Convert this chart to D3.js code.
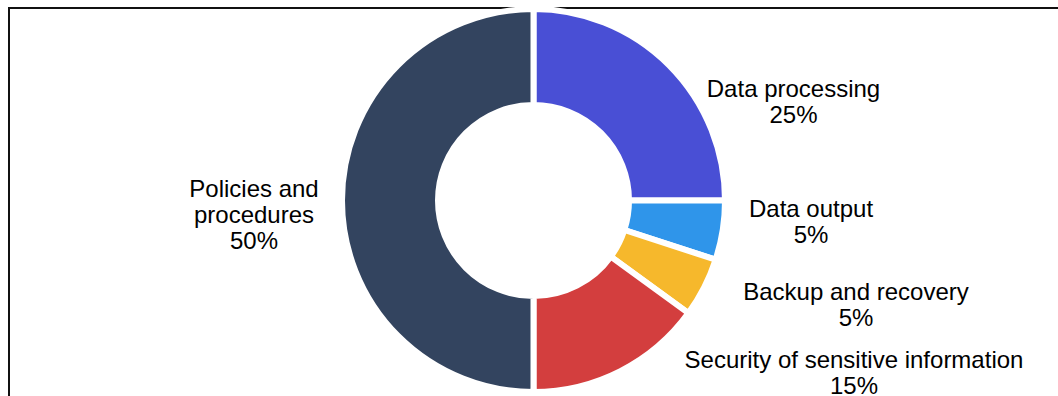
<!DOCTYPE html>
<html>
<head>
<meta charset="utf-8">
<script src="https://cdn.jsdelivr.net/npm/d3@7"></script>
<style>
  html, body { margin: 0; padding: 0; background: #fff; }
  svg { display: block; }
  text { font-family: "Liberation Sans", Arial, sans-serif; }
</style>
</head>
<body>
<svg id="chart" width="1058" height="396"></svg>
<script>
// ---- data ----
const categories = ["Data processing", "Data output", "Backup and recovery", "Security of sensitive information", "Policies and procedures"];
const labelLines = [["Data processing"], ["Data output"], ["Backup and recovery"], ["Security of sensitive information"], ["Policies and", "procedures"]];
const values = [25, 5, 5, 15, 50];
const colors = ["#494FD5", "#2F95EA", "#F6B82C", "#D33E3E", "#33445F"];

// ---- layout ----
const W = 1058, H = 396;
const cx = 533.5, cy = 200.5;
const outerR = 191.5, innerR = 95.5;
const fontSize = 24, lineH = 26;
// label anchor (center x, first baseline y) relative to the pie center
const labelOffsets = [[260, -103.8], [277.5, 16.2], [322.5, 99.5], [320.5, 167.2], [-279.5, -3.8]];

const svg = d3.select("#chart");

// frame
svg.append("rect")
  .attr("x", 9).attr("y", 8)
  .attr("width", 1200).attr("height", 600)
  .attr("fill", "none").attr("stroke", "#111").attr("stroke-width", 2);

const pie = d3.pie().sort(null).value(d => d)(values);
const arc = d3.arc().innerRadius(innerR).outerRadius(outerR);

const g = svg.append("g").attr("transform", `translate(${cx},${cy})`);

g.selectAll("path.slice")
  .data(pie)
  .join("path")
  .attr("class", "slice")
  .attr("d", arc)
  .attr("fill", (d, i) => colors[i])
  .attr("stroke", "#fff")
  .attr("stroke-width", 6)
  .attr("stroke-linejoin", "miter");

const total = d3.sum(values);
const fmt = d3.format(".0%");

const labels = g.selectAll("text.lbl")
  .data(pie)
  .join("text")
  .attr("class", "lbl")
  .attr("text-anchor", "middle")
  .attr("font-size", fontSize)
  .attr("fill", "#000")
  .attr("transform", (d, i) => `translate(${labelOffsets[i][0]},${labelOffsets[i][1]})`);

labels.each(function(d, i) {
  const t = d3.select(this);
  const lines = labelLines[i].concat([fmt(d.value / total)]);
  lines.forEach((s, k) => {
    t.append("tspan").attr("x", 0).attr("y", k * lineH).text(s);
  });
});
</script>
</body>
</html>
